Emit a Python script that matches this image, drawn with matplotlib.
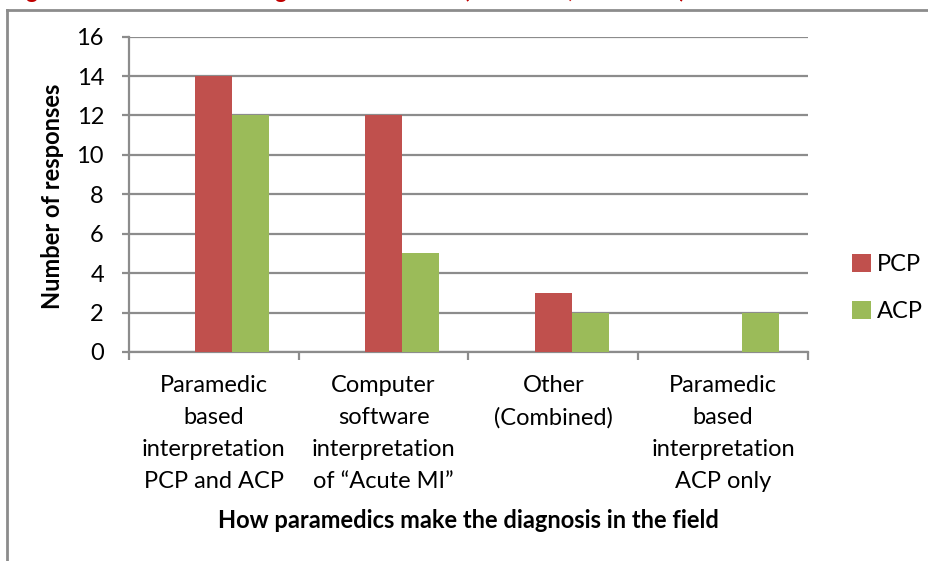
import matplotlib
matplotlib.use("Agg")
import matplotlib.pyplot as plt
import numpy as np
from matplotlib.lines import Line2D

plt.rcParams['font.family'] = ['Lato', 'DejaVu Sans']

# data
categories = ["Paramedic\nbased\ninterpretation\nPCP and ACP",
              "Computer\nsoftware\ninterpretation\nof \u201cAcute MI\u201d",
              "Other\n(Combined)",
              "Paramedic\nbased\ninterpretation\nACP only"]
pcp = [14, 12, 3, 0]
acp = [12, 5, 2, 2]
series_names = ["PCP", "ACP"]
colors = ["#C0504D", "#9BBB59"]
yticks = [0, 2, 4, 6, 8, 10, 12, 14, 16]

W, H = 929, 561
fig = plt.figure(figsize=(W / 100, H / 100), dpi=100)
ax = fig.add_axes([129 / W, 1 - 352 / H, (808 - 129) / W, (352 - 36.6) / H])

grid_col = "#8C8C8C"
x = np.arange(len(categories))
w = 37 / 170.0
ax.bar(x, pcp, width=w, color=colors[0], label=series_names[0], zorder=3)
ax.bar(x + w, acp, width=w, color=colors[1], label=series_names[1], zorder=3)

ax.set_xlim(-0.5, len(categories) - 0.5)
ax.set_ylim(0, 16)
ax.set_yticks(yticks)
ax.yaxis.grid(True, color=grid_col, linewidth=1.6, zorder=0)
ax.set_axisbelow(True)

for s in ["top", "right"]:
    ax.spines[s].set_visible(False)
for s in ["left", "bottom"]:
    ax.spines[s].set_color(grid_col)
    ax.spines[s].set_linewidth(1.6)

ax.tick_params(axis="y", direction="out", length=5, width=1.6, color=grid_col,
               labelsize=17, pad=13)
# category boundary ticks
ax.set_xticks(np.arange(-0.5, len(categories) + 0.5, 1.0))
ax.set_xticklabels([])
ax.tick_params(axis="x", direction="out", length=6, width=1.6, color=grid_col)

for i, lab in enumerate(categories):
    ax.text(i, -1.15, lab, ha="center", va="top", fontsize=17,
            linespacing=1.65, transform=ax.transData, clip_on=False)

fig.text(468 / W, 1 - 521 / H, "How paramedics make the diagnosis in the field",
         ha="center", va="center", fontsize=17, fontweight="bold")
fig.text(53 / W, 1 - 196 / H, "Number of responses", ha="center", va="center",
         rotation=90, fontsize=17, fontweight="bold")

ax.legend(loc="center left", bbox_to_anchor=(843 / W, 1 - 288 / H),
          bbox_transform=fig.transFigure, frameon=False, fontsize=17,
          handlelength=0.8, handleheight=0.8, handletextpad=0.25,
          labelspacing=1.1, borderaxespad=0)

# outer chart border (only left and top edges fall inside the picture)
fig.add_artist(Line2D([7 / W, 7 / W], [0, 1 - 10 / H], transform=fig.transFigure,
                      color=grid_col, linewidth=2))
fig.add_artist(Line2D([7 / W, 1], [1 - 10 / H, 1 - 10 / H], transform=fig.transFigure,
                      color=grid_col, linewidth=2))

# figure caption, cut off at the top edge of the picture
fig.text(8 / W, 1 + 1.5 / H,
         "Figure 6: How STEMI is diagnosed in the field (PCP n=17, ACP n=21)",
         ha="left", va="baseline", fontsize=16, fontweight="bold", color="#C00000")

fig.savefig("out.png", dpi=100)
